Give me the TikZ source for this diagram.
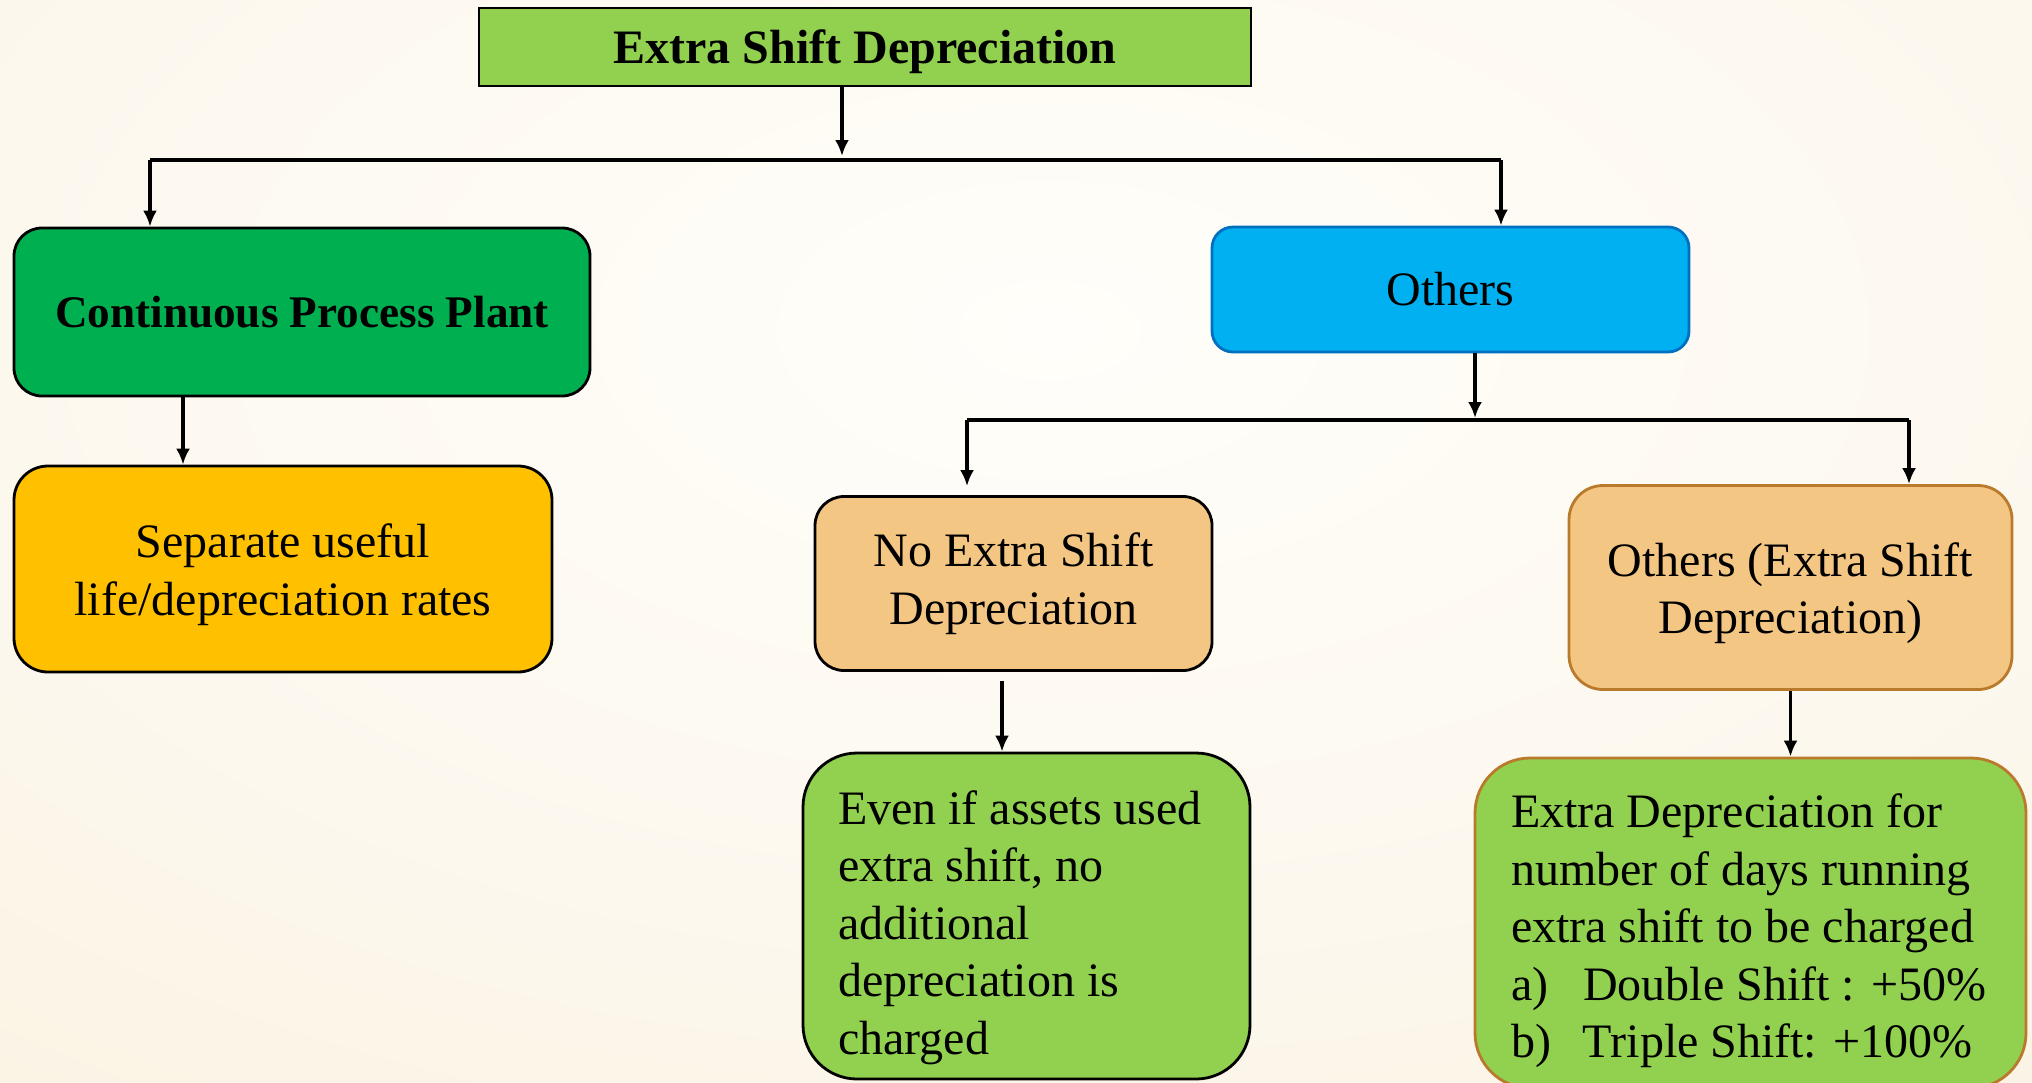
\documentclass[tikz,border=0pt]{standalone}
\usepackage{fontspec}
\setmainfont{Liberation Serif}
\usetikzlibrary{arrows.meta,calc}

% paper background tones
\definecolor{bgA}{HTML}{FFFEFA}
\definecolor{bgB}{HTML}{FDF9F0}
\definecolor{bgC}{HTML}{F9F0DC}
\definecolor{bgD}{HTML}{F6E9C6}
\definecolor{bgE}{HTML}{F3E1B3}
% box fills and borders
\definecolor{lime}{HTML}{92D050}
\definecolor{leaf}{HTML}{00B050}
\definecolor{sky}{HTML}{00B0F0}
\definecolor{skyline}{HTML}{0070C0}
\definecolor{amber}{HTML}{FFC000}
\definecolor{peach}{HTML}{F4C683}
\definecolor{tan}{HTML}{B97A2B}

\pgfdeclareradialshading{paper}{\pgfpointorigin}{%
  color(0bp)=(bgA); color(13bp)=(bgB); color(34bp)=(bgC);
  color(40bp)=(bgD); color(50bp)=(bgE)}

% raises the first line of a box's text so the block sits lower
\newcommand{\lead}[1]{\rule{0pt}{#1}}

\tikzset{
  txt/.style={font=\fontsize{24}{28.75}\selectfont},
  rbox/.style={draw=black, line width=1.4pt, inner sep=0pt, align=center, txt},
  arr/.style={line width=1.6pt, -{Latex[length=8pt,width=7pt]}},
  bus/.style={line width=2.2pt},
}

\begin{document}
\begin{tikzpicture}[x=0.5pt,y=-0.5pt]
\useasboundingbox (0,0) rectangle (2032,1082);

% background
\begin{scope}
  \clip (0,0) rectangle (2032,1082);
  \fill[bgE] (0,0) rectangle (2032,1082);
  \shade[shading=paper] (1050,330) ellipse [x radius=1750, y radius=962];
\end{scope}

% boxes
\node[draw=black, line width=1pt, fill=lime, minimum width=386pt, minimum height=39pt,
      inner sep=0pt, text depth=0pt, font=\fontsize{24}{28}\selectfont\bfseries]
  (title) at (865,47) {Extra Shift Depreciation};

\node[rbox, fill=leaf, rounded corners=14pt, minimum width=288pt, minimum height=84pt,
      font=\fontsize{22.6}{28}\selectfont\bfseries]
  (cpp) at (302,312) {Continuous Process Plant};

\node[rbox, draw=skyline, fill=sky, rounded corners=10.5pt, minimum width=238.5pt,
      minimum height=62.5pt]
  (others) at (1450.5,289.5) {Others};

\node[rbox, fill=amber, rounded corners=17pt, minimum width=269pt, minimum height=103pt]
  (sep) at (283,569) {\lead{22.6pt}Separate useful\\life/depreciation rates};

\node[rbox, fill=peach, rounded corners=14.5pt, minimum width=198.5pt, minimum height=87pt]
  (noext) at (1013.5,583.5) {No Extra Shift\\Depreciation};

\node[rbox, draw=tan, fill=peach, rounded corners=17pt, minimum width=221.5pt,
      minimum height=102pt]
  (oext) at (1790.5,587.5) {\lead{22.6pt}Others (Extra Shift\\Depreciation)};

\node[rbox, fill=lime, rounded corners=27pt, minimum width=223.5pt, minimum height=163pt,
      inner xsep=17.5pt, text width=188.5pt, align=flush left]
  (even) at (1026.5,916)
  {\lead{28.6pt}Even if assets used\\extra shift, no\\additional\\depreciation is\\charged};

\node[rbox, draw=tan, fill=lime, rounded corners=27.5pt, minimum width=275.5pt,
      minimum height=165pt, inner xsep=18pt, text width=239.5pt, align=flush left]
  (extra) at (1750.5,923)
  {\lead{25pt}Extra Depreciation for\\number of days running\\extra shift to be charged\\%
   \mbox{\makebox[36pt][l]{a)}Double Shift : +50\%}\\%
   \mbox{\makebox[36pt][l]{b)}Triple Shift: +100\%}};

% branch points
\coordinate (j1) at (842,160);
\coordinate (j1L) at (150,160);
\coordinate (j1R) at (1501,160);
\coordinate (j2) at (1475,420);
\coordinate (j2L) at (967,420);
\coordinate (j2R) at (1909,420);
\coordinate (c1) at (183,0);
\coordinate (c2) at (1002,0);

% connectors
\draw[arr, shorten >=2pt] (title.south -| j1) -- (j1);
\draw[bus] (j1L) -- (j1R);
\draw[arr] (j1L) -- (cpp.north -| j1L);
\draw[arr] (j1R) -- (others.north -| j1R);

\draw[arr] (cpp.south -| c1) -- (sep.north -| c1);

\draw[arr, shorten >=1pt] (others.south -| j2) -- (j2);
\draw[bus] (j2L) -- (j2R);
\draw[arr, shorten >=4.5pt] (j2L) -- (noext.north -| j2L);
\draw[arr] (j2R) -- (oext.north -| j2R);

\draw[arr, shorten <=4.5pt] (noext.south -| c2) -- (even.north -| c2);
\draw[arr] (oext.south) -- (extra.north -| oext.south);
\end{tikzpicture}
\end{document}
